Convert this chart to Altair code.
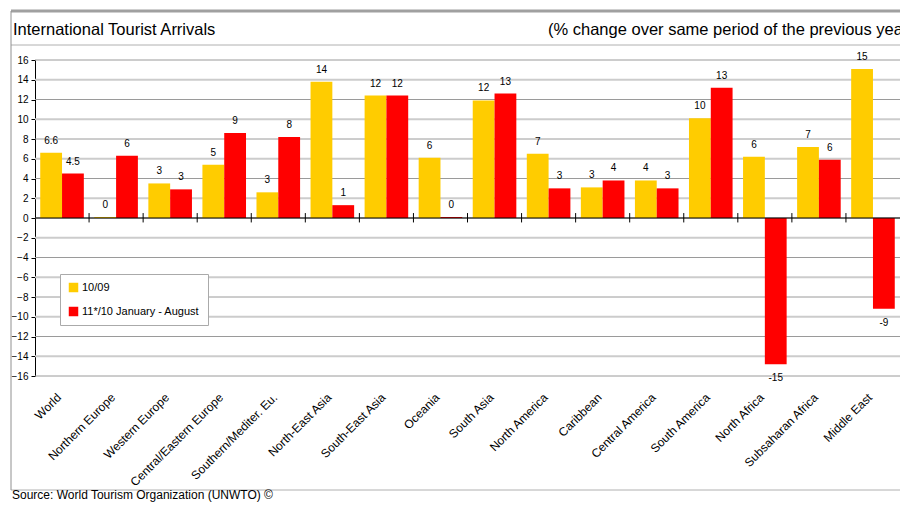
import altair as alt
import pandas as pd

regions = ["World", "Northern Europe", "Western Europe", "Central/Eastern Europe",
           "Southern/Mediter. Eu.", "North-East Asia", "South-East Asia", "Oceania",
           "South Asia", "North America", "Caribbean", "Central America",
           "South America", "North Africa", "Subsaharan Africa", "Middle East"]
series_names = ["10/09", "11*/10 January - August"]
series_colors = ["#FFCC00", "#FF0000"]
vals_1009 = [6.6, 0.1, 3.5, 5.4, 2.6, 13.8, 12.4, 6.1, 11.9, 6.5, 3.1, 3.8, 10.1, 6.2, 7.2, 15.1]
vals_1110 = [4.5, 6.3, 2.9, 8.6, 8.2, 1.3, 12.4, 0.1, 12.6, 3.0, 3.8, 3.0, 13.2, -14.8, 5.9, -9.2]
labels_1009 = ["6.6", "0", "3", "5", "3", "14", "12", "6", "12", "7", "3", "4", "10", "6", "7", "15"]
labels_1110 = ["4.5", "6", "3", "9", "8", "1", "12", "0", "13", "3", "4", "3", "13", "-15", "6", "-9"]
y_ticks = list(range(-16, 17, 2))

title_left = "International Tourist Arrivals"
title_right = "(% change over same period of the previous year)"
source_text = "Source: World Tourism Organization (UNWTO) \u00a9"

FONT = "Liberation Sans"

rows = []
for r, v1, v2, l1, l2 in zip(regions, vals_1009, vals_1110, labels_1009, labels_1110):
    rows.append({"region": r, "series": series_names[0], "value": v1, "label": l1})
    rows.append({"region": r, "series": series_names[1], "value": v2, "label": l2})
df = pd.DataFrame(rows)

W, H = 865, 316

y_scale = alt.Scale(domain=[-16, 16], nice=False, zero=False)

x_enc = alt.X("region:N", sort=regions,
              scale=alt.Scale(domain=regions, paddingInner=0, paddingOuter=0),
              axis=alt.Axis(title=None, labelAngle=-45, labelAlign="right",
                            labelBaseline="middle", domain=False, ticks=False,
                            grid=False, labelPadding=19, labelOffset=-3,
                            labelFont=FONT, labelFontSize=12, labelColor="#000000",
                            labelOverlap=False))
xoff_enc = alt.XOffset("series:N", sort=series_names,
                       scale=alt.Scale(domain=series_names, paddingOuter=0.24, paddingInner=0))
y_enc = alt.Y("value:Q", scale=y_scale,
              axis=alt.Axis(title=None, values=y_ticks, tickCount=len(y_ticks), grid=False,
                            labelOverlap=False, labelFlush=False,
                            domainColor="#000000", tickColor="#000000", tickSize=4,
                            labelPadding=3, labelFont=FONT, labelFontSize=10,
                            labelColor="#000000"))

# gridlines (alternating shades like the original)
grid_df = pd.DataFrame({"g": y_ticks, "major": [t % 4 == 0 for t in y_ticks]})
grid_light = alt.Chart(grid_df).transform_filter("!datum.major").mark_rule(
    color="#cccccc", strokeWidth=2).encode(y=alt.Y("g:Q", scale=y_scale))
grid_dark = alt.Chart(grid_df).transform_filter("datum.major").mark_rule(
    color="#9a9a9a", strokeWidth=1).encode(y=alt.Y("g:Q", scale=y_scale))

bars = alt.Chart(df).mark_bar().encode(
    x=x_enc,
    xOffset=xoff_enc,
    y=y_enc,
    color=alt.Color("series:N", sort=series_names,
                    scale=alt.Scale(domain=series_names, range=series_colors),
                    legend=alt.Legend(title=None, orient="none", legendX=25, legendY=214,
                                      direction="vertical", symbolType="square",
                                      symbolSize=90, symbolStrokeWidth=0,
                                      labelFont=FONT, labelFontSize=11, labelColor="#000000",
                                      strokeColor="#aaaaaa", fillColor="#ffffff",
                                      padding=8, rowPadding=12, labelOffset=3)),
)

pos_labels = alt.Chart(df).transform_filter("datum.value >= 0").mark_text(
    font=FONT, fontSize=10, color="#000000", baseline="alphabetic", dy=-9
).encode(x=alt.X("region:N", sort=regions), xOffset=alt.XOffset("series:N", sort=series_names),
         y=alt.Y("value:Q", scale=y_scale), text="label:N")

neg_labels = alt.Chart(df).transform_filter("datum.value < 0").mark_text(
    font=FONT, fontSize=10, color="#000000", baseline="alphabetic", dy=17
).encode(x=alt.X("region:N", sort=regions), xOffset=alt.XOffset("series:N", sort=series_names),
         y=alt.Y("value:Q", scale=y_scale), text="label:N")

zero_df = pd.DataFrame({"v": [0]})
zero_line = alt.Chart(zero_df).mark_rule(color="#000000", strokeWidth=1).encode(
    y=alt.Y("v:Q", scale=y_scale))

tick_df = pd.DataFrame({"region": regions[1:], "top": [0.5] * 15, "bot": [-0.45] * 15})
group_ticks = alt.Chart(tick_df).mark_rule(color="#000000", strokeWidth=1).encode(
    x=alt.X("region:N", sort=regions, bandPosition=0),
    y=alt.Y("top:Q", scale=y_scale), y2="bot:Q")

one = pd.DataFrame({"k": [0]})
frame_top = alt.Chart(one).mark_rule(color="#a0a0a0", strokeWidth=3).encode(
    x=alt.value(-24), x2=alt.value(W + 10), y=alt.value(-49))
frame_title = alt.Chart(one).mark_rule(color="#b0b0b0", strokeWidth=1).encode(
    x=alt.value(-24), x2=alt.value(W + 10), y=alt.value(-15))
frame_bottom = alt.Chart(one).mark_rule(color="#b0b0b0", strokeWidth=1).encode(
    x=alt.value(-24), x2=alt.value(W + 10), y=alt.value(430))
frame_left = alt.Chart(one).mark_rule(color="#909090", strokeWidth=1).encode(
    x=alt.value(-24), y=alt.value(-49), y2=alt.value(430))

t_left = alt.Chart(one).mark_text(text=title_left, font=FONT, fontSize=16.5, align="left",
                                  baseline="alphabetic", color="#000000").encode(
    x=alt.value(-22), y=alt.value(-25))
t_right = alt.Chart(one).mark_text(text=title_right, font=FONT, fontSize=16.5, align="left",
                                   baseline="alphabetic", color="#000000").encode(
    x=alt.value(513), y=alt.value(-25))
t_source = alt.Chart(one).mark_text(text=source_text, font=FONT, fontSize=12, align="left",
                                    baseline="alphabetic", color="#000000").encode(
    x=alt.value(-23), y=alt.value(439))

chart = alt.layer(
    grid_light, grid_dark, bars, zero_line, group_ticks, pos_labels, neg_labels,
    frame_top, frame_title, frame_bottom, frame_left, t_left, t_right, t_source
).properties(
    width=W, height=H,
    padding={"left": 27, "top": 52, "right": 0, "bottom": 126},
    autosize=alt.AutoSizeParams(type="none"),
    background="#ffffff",
).configure_view(stroke=None)

chart.save("out.html", embed_options={"renderer": "svg", "actions": False})
